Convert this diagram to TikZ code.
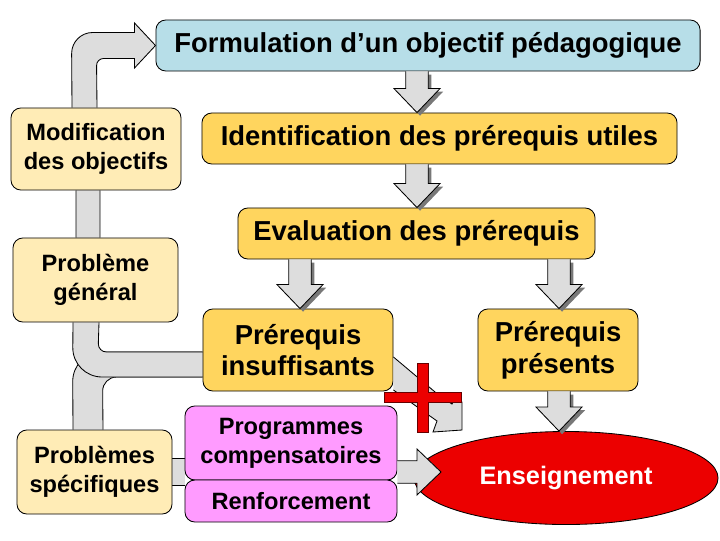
\documentclass[tikz,border=0pt]{standalone}
\usepackage{fontspec}
\setmainfont{Liberation Sans}
\usepackage{tikz}
\usetikzlibrary{calc,shapes.geometric,backgrounds}
\definecolor{myblue}{RGB}{183,222,232}
\definecolor{mygold}{RGB}{255,213,94}
\definecolor{mycream}{RGB}{255,236,182}
\definecolor{mypink}{RGB}{255,155,255}
\definecolor{myred}{RGB}{236,0,0}
\definecolor{mygray}{RGB}{221,221,221}
\definecolor{myshadow}{RGB}{120,120,120}
\tikzset{
		boxStyle/.style = 	{draw, line width=0.6pt, rounded corners=7pt, inner sep=0pt, align=center, font=\bfseries\fontsize{19.5}{22.5}\selectfont},
		smallBox/.style = 	{boxStyle, font=\bfseries\fontsize{16.8}{20.5}\selectfont},
		pipeFill/.style = 	{fill=mygray},
		pipeEdge/.style = 	{line width=0.6pt},
		arrowStyle/.style = 	{fill=mygray, draw, line width=0.6pt},
		shadowStyle/.style = 	{fill=myshadow}
}
\newcommand\shaftW{0.28cm}
\newcommand\headW{0.575cm}
\newcommand\headL{0.6cm}
% block arrow from the bottom of #3 to the top of #4, in column #2, moved by #5
\newcommand\blockArrow[5][]{%
  \path[#1] let \p1=(#2 |- #3.south), \p2=(#2 |- #4.north), \n1={#5} in
    (\x1-\shaftW+\n1,\y1-\n1) -- (\x1-\shaftW+\n1,\y2+\headL-\n1) -- (\x1-\headW+\n1,\y2+\headL-\n1) -- (\x2+\n1,\y2-\n1)
    -- (\x1+\headW+\n1,\y2+\headL-\n1) -- (\x1+\shaftW+\n1,\y2+\headL-\n1) -- (\x1+\shaftW+\n1,\y1-\n1);}
\newcommand\downArrow[3]{%
  \blockArrow[shadowStyle]{#1}{#2}{#3}{2.2pt}
  \blockArrow[arrowStyle]{#1}{#2}{#3}{0pt}}

\begin{document}
\begin{tikzpicture}[x=0.025cm, y=-0.025cm]
  \useasboundingbox (0,0) rectangle (720,540);

  % Boxes
  \node[boxStyle, fill=myblue, minimum width=13.6cm, minimum height=1.275cm] (formulation) at (428,45.5) {Formulation d’un objectif pédagogique};
  \node[smallBox, fill=mycream, minimum width=4.25cm, minimum height=2.05cm] (modif) at (96,149) {Modification\\des objectifs};
  \node[boxStyle, fill=mygold, minimum width=11.875cm, minimum height=1.275cm] (identif) at (439.5,138.5) {Identification des prérequis utiles};
  \node[boxStyle, fill=mygold, minimum width=8.925cm, minimum height=1.275cm] (eval) at (416.5,233.5) {Evaluation des prérequis};
  \node[smallBox, fill=mycream, minimum width=4.125cm, minimum height=2.1cm] (probgen) at (95.5,280) {Problème\\général};
  \node[boxStyle, fill=mygold, minimum width=4.75cm, minimum height=2.05cm] (insuff) at (298,350) {Prérequis\\insuffisants};
  \node[boxStyle, fill=mygold, minimum width=4cm, minimum height=2.05cm] (presents) at (558,350) {Prérequis\\présents};
  \node[smallBox, fill=mycream, minimum width=3.875cm, minimum height=2.1cm] (probspec) at (94.5,472) {Problèmes\\spécifiques};
  \node[smallBox, fill=mypink, minimum width=5.3cm, minimum height=1.85cm] (programmes) at (291,443) {Programmes\\compensatoires};
  \node[smallBox, fill=mypink, minimum width=5.3cm, minimum height=1.05cm] (renfo) at (291,501) {Renforcement};
  \node[ellipse, draw, line width=0.6pt, fill=myred, text=white, inner sep=0pt, minimum width=7.6cm, minimum height=2.325cm, font=\bfseries\fontsize{18}{21}\selectfont] (ens) at (566,478) {Enseignement};

  \coordinate (colA) at (417,0);
  \coordinate (colB) at (300,0);
  \coordinate (colC) at (559,0);
  \coordinate (tipH) at (441,472);

  % Pipes on the left
  \begin{scope}[on background layer]
    % back to the objective
    \path[pipeFill, draw, pipeEdge] ($(modif.north)+(-24,0)$) [rounded corners=15pt] -- ($(formulation.west)+(-84,-13)$)
      [sharp corners] -- ($(formulation.west)+(-21,-13)$) -- ++(0,-9.5) -- (formulation.west) -- ++(-21,22.5) -- ++(0,-9.5)
      [rounded corners=5pt] -- ($(formulation.west)+(-59,13)$) [sharp corners] -- ($(modif.north)+(1,0)$);
    \fill[pipeFill] ($(modif.south)+(-20,0)$) rectangle ($(probgen.north)+(4.5,0)$);
    \draw[pipeEdge] ($(modif.south)+(-20,0)$) -- ($(probgen.north)+(-19.5,0)$)
                    ($(modif.south)+(4,0)$) -- ($(probgen.north)+(4.5,0)$);
    % from the specific problems
    \fill[pipeFill] ($(probspec.north)+(-21.5,0)$) [rounded corners=21pt] -- ($(insuff.west)+(-130,2)$)
      [sharp corners] -- ($(insuff.west)+(0,2)$) -- ($(insuff.west)+(0,27)$)
      [rounded corners=10pt] -- ($(insuff.west)+(-100,27)$) [sharp corners] -- ($(probspec.north)+(8.5,0)$) -- cycle;
    \draw[pipeEdge] ($(probspec.north)+(-21.5,0)$) [rounded corners=21pt] -- ($(insuff.west)+(-130,2)$) [sharp corners] -- ($(insuff.west)+(0,2)$);
    \draw[pipeEdge] ($(insuff.west)+(0,27)$) [rounded corners=10pt] -- ($(insuff.west)+(-100,27)$) [sharp corners] -- ($(probspec.north)+(8.5,0)$);
    % from the general problem
    \fill[pipeFill] ($(probgen.south)+(-22.5,0)$) [rounded corners=21pt] -- ($(insuff.west)+(-130,27)$)
      [sharp corners] -- ($(insuff.west)+(0,27)$) -- ($(insuff.west)+(0,2)$)
      [rounded corners=6pt] -- ($(insuff.west)+(-104.5,2)$) [sharp corners] -- ($(probgen.south)+(3.5,0)$) -- cycle;
    \draw[pipeEdge] ($(probgen.south)+(-22.5,0)$) [rounded corners=21pt] -- ($(insuff.west)+(-130,27)$) [sharp corners] -- ($(insuff.west)+(0,27)$);
    \draw[pipeEdge] ($(insuff.west)+(0,2)$) [rounded corners=6pt] -- ($(insuff.west)+(-104.5,2)$) [sharp corners] -- ($(probgen.south)+(3.5,0)$);
    % to the programmes
    \fill[pipeFill] ($(probspec.east)+(0,-14)$) rectangle ($(programmes.west |- probspec.east)+(0,13)$);
    \draw[pipeEdge] ($(probspec.east)+(0,-14)$) -- ($(programmes.west |- probspec.east)+(0,-14)$)
                    ($(probspec.east)+(0,13)$) -- ($(programmes.west |- probspec.east)+(0,13)$);
  \end{scope}

  % Arrows down the middle
  \downArrow{colA}{formulation}{identif}
  \downArrow{colA}{identif}{eval}
  \downArrow{colB}{eval}{insuff}
  \downArrow{colC}{eval}{presents}
  \downArrow{colC}{presents}{ens}

  % Arrow into the teaching
  \path[arrowStyle] let \p1=(programmes.east |- tipH), \p2=(tipH) in
    (\x1,\y1+\shaftW) -- (\x2-\headL,\y1+\shaftW) -- (\x2-\headL,\y1+\headW) -- (\x2,\y2)
    -- (\x2-\headL,\y1-\headW) -- (\x2-\headL,\y1-\shaftW) -- (\x1,\y1-\shaftW);

  % Crossed arrow
  \path[arrowStyle] ($(insuff.east)+(0,40)$) -- (437,421) -- (433,432) -- (462,430) -- (462,402)
    -- (455,399) -- (452,404) -- (441,397) -- ($(insuff.east)+(0,7)$);
  \path[fill=myred, draw=black!60!red, line width=0.5pt] (417,363) -- (428,363) -- (428,392) -- (461,392) -- (461,402) -- (428,402)
    -- (428,432) -- (417,432) -- (417,402) -- (384,402) -- (384,392) -- (417,392) -- cycle;

\end{tikzpicture}
\end{document}
